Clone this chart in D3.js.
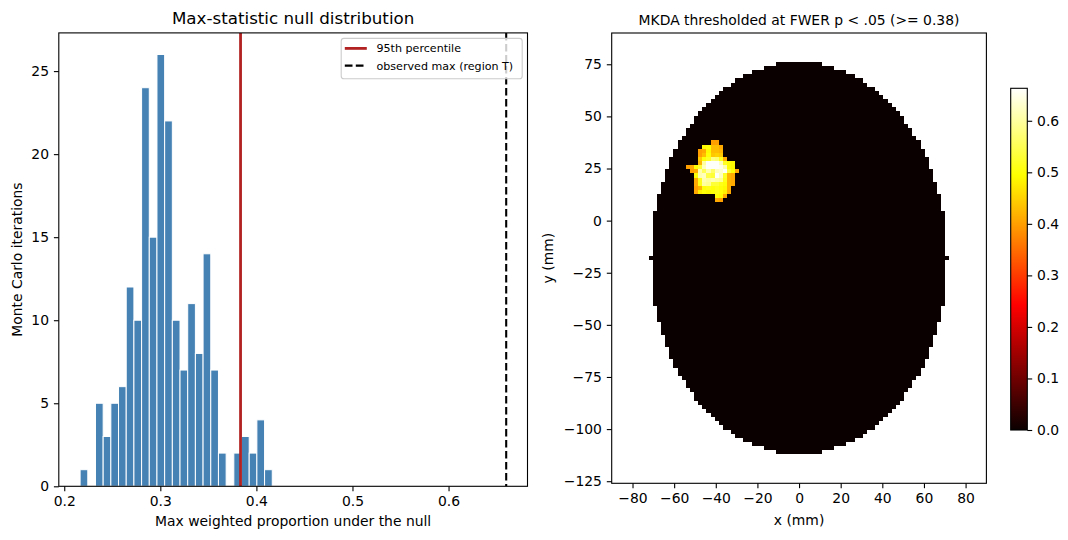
<!DOCTYPE html>
<html>
<head>
<meta charset="utf-8">
<script src="https://cdn.jsdelivr.net/npm/d3@7"></script>
<style>
  body { margin: 0; background: #fff; }
  text { font-family: "DejaVu Sans", sans-serif; fill: #000; }
</style>
</head>
<body>
<div id="chart"></div>
<script>
// ---- left panel: Monte Carlo null distribution of the max statistic
const binEdges = [0.2165, 0.2245, 0.2325, 0.2405, 0.2485, 0.2565, 0.2645, 0.2725, 0.2805,
  0.2885, 0.2965, 0.3045, 0.3125, 0.3205, 0.3285, 0.3365, 0.3445, 0.3525, 0.3605, 0.3685,
  0.3765, 0.3845, 0.3925, 0.4005, 0.4085, 0.4165];
const binCounts = [1, 0, 5, 3, 5, 6, 12, 10, 24, 15, 26, 22, 10, 7, 11, 8, 14, 7, 2, 0, 2, 3, 2, 4, 1];
const percentile95 = 0.3835;
const observedMax = 0.660;
const nullXTicks = [0.2, 0.3, 0.4, 0.5, 0.6];
const nullYTicks = [0, 5, 10, 15, 20, 25];
const legendLabels = ["95th percentile", "observed max (region T)"];

// ---- right panel: thresholded MKDA map (2 mm grid, x -90..90, y -126..90)
const maskTopY = 76;           // first row of the brain mask, rows go down in 2 mm steps
const maskHalfWidths = [10, 16, 22, 26, 30, 32, 36, 38, 40, 42, 44, 46, 48, 50, 50, 52, 54, 54,
  56, 58, 58, 60, 60, 62, 62, 62, 64, 64, 64, 66, 66, 66, 68, 68, 68, 68, 70, 70, 70, 70, 70,
  70, 70, 70, 70, 70, 70, 72, 70, 70, 70, 70, 70, 70, 70, 70, 70, 70, 70, 68, 68, 68, 68, 66,
  66, 66, 64, 64, 64, 62, 62, 62, 60, 60, 58, 58, 56, 54, 54, 52, 50, 50, 48, 46, 44, 42, 40,
  38, 36, 32, 30, 26, 22, 16, 10];
// surviving cluster: [y, first x, values along the row]
const blobRows = [
  [38, -42, [0.40, 0.40]],
  [36, -46, [0.49, 0.50, 0.43, 0.43, 0.41]],
  [34, -48, [0.40, 0.41, 0.49, 0.43, 0.43, 0.42]],
  [32, -48, [0.40, 0.43, 0.50, 0.44, 0.45, 0.44]],
  [30, -48, [0.44, 0.50, 0.52, 0.58, 0.57, 0.51, 0.41]],
  [28, -48, [0.42, 0.60, 0.66, 0.66, 0.66, 0.62, 0.52, 0.50, 0.49]],
  [26, -54, [0.40, 0.41, 0.50, 0.53, 0.62, 0.66, 0.66, 0.66, 0.65, 0.61, 0.50, 0.49]],
  [24, -52, [0.40, 0.41, 0.61, 0.55, 0.61, 0.56, 0.62, 0.63, 0.66, 0.53, 0.50, 0.41]],
  [22, -50, [0.50, 0.61, 0.62, 0.54, 0.53, 0.66, 0.62, 0.52, 0.42, 0.41]],
  [20, -50, [0.41, 0.51, 0.61, 0.60, 0.61, 0.60, 0.59, 0.51, 0.42, 0.41]],
  [18, -50, [0.41, 0.51, 0.60, 0.59, 0.53, 0.53, 0.51, 0.50, 0.42, 0.41]],
  [16, -50, [0.40, 0.42, 0.50, 0.51, 0.50, 0.51, 0.50, 0.49, 0.42]],
  [14, -50, [0.41, 0.48, 0.50, 0.49, 0.50, 0.51, 0.50, 0.48, 0.41]],
  [12, -40, [0.50, 0.49, 0.41]],
  [10, -40, [0.41, 0.40]]
];
const brainXTicks = [-80, -60, -40, -20, 0, 20, 40, 60, 80];
const brainYTicks = [75, 50, 25, 0, -25, -50, -75, -100, -125];
const cbarTicks = [0, 0.1, 0.2, 0.3, 0.4, 0.5, 0.6];
const cbarMax = 0.663;

// matplotlib "hot"
function hot(t) {
  t = Math.max(0, Math.min(1, t));
  const r = 0.0416 + (1 - 0.0416) * Math.min(1, t / 0.365079);
  const g = Math.max(0, Math.min(1, (t - 0.365079) / (0.746032 - 0.365079)));
  const b = Math.max(0, Math.min(1, (t - 0.746032) / (1 - 0.746032)));
  return d3.rgb(r * 255, g * 255, b * 255).toString();
}

const svg = d3.select("#chart").append("svg")
  .attr("width", 1068).attr("height", 540)
  .style("background", "white");

const tickFont = "13.9px";

function styleAxis(g) {
  g.select(".domain").remove();
  g.selectAll(".tick line").attr("stroke", "#000").attr("stroke-width", 1.1);
  g.selectAll(".tick text").style("font-size", tickFont).attr("fill", "#000")
    .style("font-family", '"DejaVu Sans", sans-serif');
}

// ================= left panel =================
const L = { left: 58.8, right: 527.5, top: 32.9, bottom: 486.3 };
const lo = binEdges[0], hi = Math.max(observedMax, binEdges[binEdges.length - 1]);
const padX = (hi - lo) * 0.05;
const xNull = d3.scaleLinear([lo - padX, hi + padX], [L.left, L.right]);
const yNull = d3.scaleLinear([0, d3.max(binCounts) * 1.05], [L.bottom, L.top]);

svg.append("clipPath").attr("id", "clipL").append("rect")
  .attr("x", L.left).attr("y", L.top).attr("width", L.right - L.left).attr("height", L.bottom - L.top);

svg.append("g").selectAll("rect")
  .data(binCounts.map((c, i) => ({ c, i })).filter(d => d.c > 0))
  .join("rect")
  .attr("x", d => xNull(binEdges[d.i]))
  .attr("width", d => xNull(binEdges[d.i + 1]) - xNull(binEdges[d.i]))
  .attr("y", d => yNull(d.c))
  .attr("height", d => yNull(0) - yNull(d.c))
  .attr("fill", "#4682b4")
  .attr("stroke", "white")
  .attr("stroke-width", 1);

const vlines = svg.append("g").attr("clip-path", "url(#clipL)");
vlines.append("line")
  .attr("x1", xNull(percentile95)).attr("x2", xNull(percentile95))
  .attr("y1", L.top).attr("y2", L.bottom)
  .attr("stroke", "#b22222").attr("stroke-width", 2.8);
vlines.append("line")
  .attr("x1", xNull(observedMax)).attr("x2", xNull(observedMax))
  .attr("y1", L.top).attr("y2", L.bottom)
  .attr("stroke", "#000").attr("stroke-width", 2.1)
  .attr("stroke-dasharray", "7.7,3.3");

svg.append("g")
  .attr("transform", `translate(0,${L.bottom})`)
  .call(d3.axisBottom(xNull).tickValues(nullXTicks).tickFormat(d3.format(".1f"))
    .tickSize(4.9).tickPadding(4.9))
  .call(styleAxis);
svg.append("g")
  .attr("transform", `translate(${L.left},0)`)
  .call(d3.axisLeft(yNull).tickValues(nullYTicks).tickFormat(d3.format("d"))
    .tickSize(4.9).tickPadding(4.9))
  .call(styleAxis);

svg.append("rect")
  .attr("x", L.left).attr("y", L.top)
  .attr("width", L.right - L.left).attr("height", L.bottom - L.top)
  .attr("fill", "none").attr("stroke", "#000").attr("stroke-width", 1.1);

// legend
const lg = svg.append("g");
lg.append("rect")
  .attr("x", 341.2).attr("y", 38.4).attr("width", 181).attr("height", 40.4)
  .attr("rx", 2.8)
  .attr("fill", "white").attr("fill-opacity", 0.8)
  .attr("stroke", "#cccccc").attr("stroke-width", 1.1);
const legendStyles = [
  { color: "#b22222", width: 2.8, dash: null },
  { color: "#000", width: 2.1, dash: "7.7,3.3" }
];
legendLabels.forEach((label, i) => {
  const cy = 48.4 + i * 17.2;
  lg.append("line")
    .attr("x1", 344.8).attr("x2", 366.8).attr("y1", cy).attr("y2", cy)
    .attr("stroke", legendStyles[i].color).attr("stroke-width", legendStyles[i].width)
    .attr("stroke-dasharray", legendStyles[i].dash);
  lg.append("text")
    .attr("x", 376.5).attr("y", cy + 4)
    .style("font-size", "11.1px")
    .text(label);
});

svg.append("text")
  .attr("x", (L.left + L.right) / 2).attr("y", 24.4)
  .attr("text-anchor", "middle")
  .style("font-size", "16.7px")
  .text("Max-statistic null distribution");
svg.append("text")
  .attr("x", (L.left + L.right) / 2).attr("y", 526)
  .attr("text-anchor", "middle")
  .style("font-size", tickFont)
  .text("Max weighted proportion under the null");
svg.append("text")
  .attr("transform", `translate(22,${(L.top + L.bottom) / 2}) rotate(-90)`)
  .attr("text-anchor", "middle")
  .style("font-size", tickFont)
  .text("Monte Carlo iterations");

// ================= right panel =================
const R = { left: 611.7, right: 986.4, top: 33, bottom: 483.3 };
const xMm = d3.scaleLinear([-90, 90], [R.left, R.right]);
const yMm = d3.scaleLinear([-126, 90], [R.bottom, R.top]);
const colW = 180 / 91, rowH = 216 / 109;   // imshow extent over a 91 x 109 grid
const cellX0 = x => -90 + ((x + 90) / 2) * colW;
const cellY0 = y => -126 + ((y + 126) / 2) * rowH;

const img = svg.append("g").attr("shape-rendering", "crispEdges");
img.selectAll("rect.mask")
  .data(maskHalfWidths.map((h, r) => ({ y: maskTopY - 2 * r, h })))
  .join("rect")
  .attr("class", "mask")
  .attr("x", d => xMm(cellX0(-d.h)))
  .attr("width", d => xMm(cellX0(d.h) + colW) - xMm(cellX0(-d.h)))
  .attr("y", d => yMm(cellY0(d.y) + rowH))
  .attr("height", d => yMm(cellY0(d.y)) - yMm(cellY0(d.y) + rowH))
  .attr("fill", hot(0));

const cells = blobRows.flatMap(([y, x0, vals]) => vals.map((v, k) => ({ x: x0 + 2 * k, y, v })));
img.selectAll("rect.blob")
  .data(cells)
  .join("rect")
  .attr("class", "blob")
  .attr("x", d => xMm(cellX0(d.x)))
  .attr("width", d => xMm(cellX0(d.x) + colW) - xMm(cellX0(d.x)))
  .attr("y", d => yMm(cellY0(d.y) + rowH))
  .attr("height", d => yMm(cellY0(d.y)) - yMm(cellY0(d.y) + rowH))
  .attr("fill", d => hot(d.v / cbarMax));

svg.append("g")
  .attr("transform", `translate(0,${R.bottom})`)
  .call(d3.axisBottom(xMm).tickValues(brainXTicks).tickFormat(d3.format("d"))
    .tickSize(4.9).tickPadding(4.9))
  .call(styleAxis);
svg.append("g")
  .attr("transform", `translate(${R.left},0)`)
  .call(d3.axisLeft(yMm).tickValues(brainYTicks).tickFormat(d3.format("d"))
    .tickSize(4.9).tickPadding(4.9))
  .call(styleAxis);
svg.append("rect")
  .attr("x", R.left).attr("y", R.top)
  .attr("width", R.right - R.left).attr("height", R.bottom - R.top)
  .attr("fill", "none").attr("stroke", "#000").attr("stroke-width", 1.1);

svg.append("text")
  .attr("x", (R.left + R.right) / 2).attr("y", 24.6)
  .attr("text-anchor", "middle")
  .style("font-size", tickFont)
  .text("MKDA thresholded at FWER p < .05 (>= 0.38)");
svg.append("text")
  .attr("x", (R.left + R.right) / 2).attr("y", 525)
  .attr("text-anchor", "middle")
  .style("font-size", tickFont)
  .text("x (mm)");
svg.append("text")
  .attr("transform", `translate(553,${(R.top + R.bottom) / 2}) rotate(-90)`)
  .attr("text-anchor", "middle")
  .style("font-size", tickFont)
  .text("y (mm)");

// ================= colorbar =================
const C = { left: 1010.7, right: 1027.3, top: 88.3, bottom: 430 };
const cScale = d3.scaleLinear([0, cbarMax], [C.bottom, C.top]);
const grad = svg.append("defs").append("linearGradient")
  .attr("id", "hotGrad").attr("x1", 0).attr("y1", 1).attr("x2", 0).attr("y2", 0);
[0, 0.365079, 0.746032, 1].forEach(t => {
  grad.append("stop").attr("offset", t).attr("stop-color", hot(t));
});
svg.append("rect")
  .attr("x", C.left).attr("y", C.top)
  .attr("width", C.right - C.left).attr("height", C.bottom - C.top)
  .attr("fill", "url(#hotGrad)")
  .attr("stroke", "#000").attr("stroke-width", 1.1);
svg.append("g")
  .attr("transform", `translate(${C.right},0)`)
  .call(d3.axisRight(cScale).tickValues(cbarTicks).tickFormat(d3.format(".1f"))
    .tickSize(4.9).tickPadding(4.9))
  .call(styleAxis);
</script>
</body>
</html>
